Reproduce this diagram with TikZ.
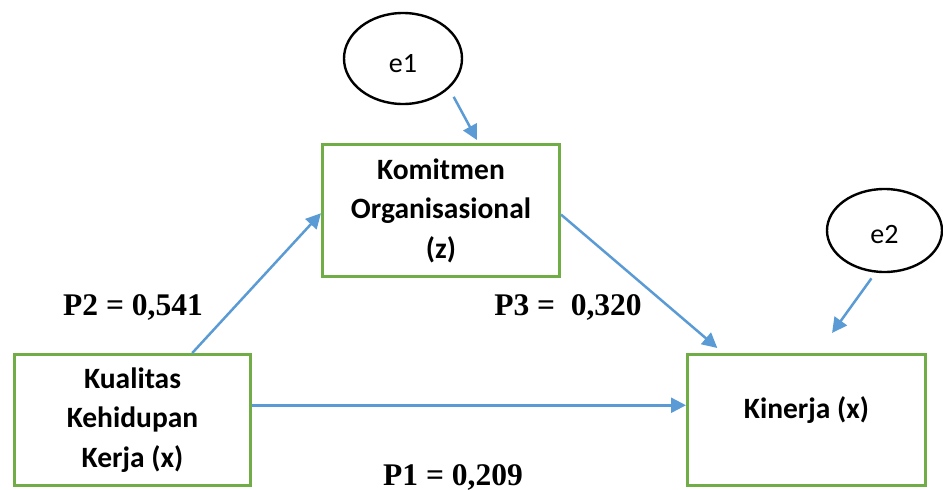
\documentclass[tikz,border=0pt]{standalone}
\usepackage{fontspec}
\setmainfont{Carlito}
\newfontfamily\timesfont{Liberation Serif}
\usetikzlibrary{arrows.meta,shapes.geometric,calc}
\definecolor{boxgreen}{HTML}{70AD47}
\definecolor{arrowblue}{HTML}{5B9BD5}
\begin{document}
\begin{tikzpicture}[x=1pt,y=-1pt,
  varbox/.style={draw=boxgreen,line width=3pt,rectangle,inner sep=0pt,align=center,
    font=\fontsize{29.5}{39.5}\selectfont\bfseries},
  errell/.style={draw=black,line width=2.4pt,ellipse,inner sep=0pt,
    font=\fontsize{28}{34}\selectfont},
  conn/.style={draw=arrowblue,line width=2.5pt,-{Triangle[length=15pt,width=15pt]}},
  coef/.style={font=\timesfont\fontsize{31.5}{36}\selectfont\bfseries,anchor=base,inner sep=0pt}
]
\useasboundingbox (0,0) rectangle (943,490);

\node[varbox,minimum width=237pt,minimum height=132pt] (kom) at (441,210.5)
  {Komitmen\\Organisasional\\(z)};
\node[varbox,minimum width=236pt,minimum height=131pt] (kual) at (132.5,420)
  {Kualitas\\Kehidupan\\Kerja (x)};
\node[varbox,minimum width=238pt,minimum height=131pt,text height=20pt,text depth=24pt] (kin) at (806.5,420)
  {Kinerja (x)};

\node[errell,minimum width=118pt,minimum height=91pt,text height=27pt,text depth=0pt] (e1) at (403,58.5) {e1};
\node[errell,minimum width=115pt,minimum height=83pt,text height=25pt,text depth=0pt] (e2) at (884.5,230.5) {e2};

\draw[conn] ($(kual.north west)!0.75!(kual.north east)$) -- ($(kom.north west)!0.52!(kom.south west)$);
\draw[conn] ($(kom.north east)!0.53!(kom.south east)$) -- ($(kin.north west)!0.13!(kin.north east)+(0,-5)$);
\draw[conn] ($(kual.north east)!0.39!(kual.south east)$) -- ($(kin.north west)!0.39!(kin.south west)$);
\draw[conn,shorten <=9.5pt] (e1.-33) -- ($(kom.north west)!0.65!(kom.north east)+(0,-3)$);
\draw[conn,shorten <=7pt] (e2.-102) -- ($(kin.north west)!0.606!(kin.north east)+(0,-20)$);

\node[coef] (p2) at (133,315) {P2 = 0,541};
\node[coef] (p3) at (568,315) {P3 = \ 0,320};
\node[coef] (p1) at (453,485) {P1 = 0,209};
\end{tikzpicture}
\end{document}
